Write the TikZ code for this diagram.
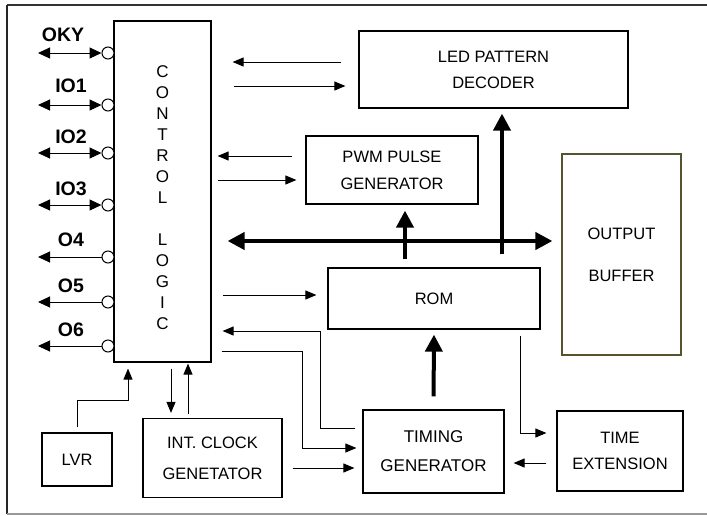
\documentclass[tikz,border=0pt]{standalone}
\usepackage{fontspec}
\setmainfont{Liberation Sans}
\usetikzlibrary{arrows.meta}

\definecolor{oliveedge}{RGB}{85,85,45}

\begin{document}
\begin{tikzpicture}[x=1pt,y=-1pt,line width=1pt,>={Triangle[length=11pt,width=9pt]},
        blk/.style={draw,line width=1.2pt,inner sep=0pt,align=center,font=\fontsize{16.5}{26}\selectfont},
        pin/.style={draw,circle,fill=white,inner sep=0pt,minimum size=12pt,line width=1pt},
        pinlab/.style={font=\fontsize{19.5}{19.5}\selectfont\bfseries},
        pinboth/.style={{Triangle[length=12pt,width=11pt]}-{Triangle[length=12pt,width=11pt]}},
        pinout/.style={-{Triangle[length=12pt,width=11pt]}},
        fat/.style={line width=4pt,-{Triangle[length=17pt,width=17pt]}},
        fatboth/.style={line width=4pt,{Triangle[length=17pt,width=17pt]}-{Triangle[length=17pt,width=17pt]}}]
        \pgfmathsetmacro{\px}{108}
        \pgfmathsetmacro{\ex}{38}
        \pgfmathsetmacro{\lx}{71}

        \useasboundingbox (0,0) rectangle (707,515);

        % outer frame
        \draw[line width=2pt,black!80] (7,5) -- (707,5);
        \draw[line width=1.2pt,black!85] (7,5) -- (7,514);
        \draw[line width=1.2pt,black!40] (7,514) -- (707,514);

        % blocks
        \node[blk,minimum width=97pt,minimum height=341pt] (CL) at (162.5,191.5) {};
        \node[font=\fontsize{17}{21}\selectfont,align=center,inner sep=0pt] (CL_txt) at (162.5,198)
                {C\\O\\N\\T\\R\\O\\L\\[21pt]L\\O\\G\\I\\C};
        \node[blk,minimum width=269pt,minimum height=77pt] (LED) at (493.5,69.5) {LED PATTERN\\DECODER};
        \node[blk,minimum width=172pt,minimum height=68pt,font=\fontsize{16.5}{27}\selectfont] (PWM) at (392,170) {PWM PULSE\\GENERATOR};
        \node[blk,draw=oliveedge,minimum width=119pt,minimum height=201pt,font=\fontsize{16.5}{42}\selectfont] (OB) at (621.5,254.5) {OUTPUT\\BUFFER};
        \node[blk,minimum width=212pt,minimum height=61pt] (ROM) at (434,298.5) {ROM};
        \node[blk,minimum width=141pt,minimum height=83pt,font=\fontsize{17}{29}\selectfont] (TG) at (433.5,451.5) {TIMING\\GENERATOR};
        \node[blk,minimum width=126pt,minimum height=80pt] (TE) at (620,451) {TIME\\EXTENSION};
        \node[blk,minimum width=70pt,minimum height=53pt] (LVR) at (77,459.5) {LVR};
        \node[blk,minimum width=139pt,minimum height=79pt,font=\fontsize{16.5}{31}\selectfont] (ICG) at (212.5,458) {INT. CLOCK\\GENETATOR};

        % pins
        \node[pin] (P_OKY) at (\px,53) {};
        \node[pin] (P_IO1) at (\px,105) {};
        \node[pin] (P_IO2) at (\px,153) {};
        \node[pin] (P_IO3) at (\px,205) {};
        \node[pin] (P_O4) at (\px,257) {};
        \node[pin] (P_O5) at (\px,302) {};
        \node[pin] (P_O6) at (\px,346) {};

        \coordinate (E_OKY) at (\ex,53);
        \coordinate (E_IO1) at (\ex,105);
        \coordinate (E_IO2) at (\ex,153);
        \coordinate (E_IO3) at (\ex,205);
        \coordinate (E_O4) at (\ex,257);
        \coordinate (E_O5) at (\ex,302);
        \coordinate (E_O6) at (\ex,346);

        \node[pinlab] (L_OKY) at (63,35) {OKY};
        \node[pinlab] (L_IO1) at (\lx,86) {IO1};
        \node[pinlab] (L_IO2) at (\lx,137) {IO2};
        \node[pinlab] (L_IO3) at (\lx,189) {IO3};
        \node[pinlab] (L_O4) at (\lx,240) {O4};
        \node[pinlab] (L_O5) at (\lx,286) {O5};
        \node[pinlab] (L_O6) at (\lx,330) {O6};

        \draw[pinboth] (E_OKY) -- (P_OKY);
        \draw[pinboth] (E_IO1) -- (P_IO1);
        \draw[pinboth] (E_IO2) -- (P_IO2);
        \draw[pinboth] (E_IO3) -- (P_IO3);
        \draw[pinout] (P_O4) -- (E_O4);
        \draw[pinout] (P_O5) -- (E_O5);
        \draw[pinout] (P_O6) -- (E_O6);

        % control logic to the blocks on its right
        \draw[->,shorten <=17pt,shorten >=21pt] (LED.west |- 0,62) -- (CL.east |- 0,62);
        \draw[->,shorten <=22pt,shorten >=13pt] (CL.east |- 0,86) -- (LED.west |- 0,86);
        \draw[->,shorten <=13pt,shorten >=6pt] (PWM.west |- 0,156) -- (CL.east |- 0,156);
        \draw[->,shorten <=6pt,shorten >=9pt] (CL.east |- 0,180) -- (PWM.west |- 0,180);
        \draw[fatboth,shorten <=16pt,shorten >=9pt] (CL.east |- 0,241) -- (OB.west |- 0,241);
        \draw[->,shorten <=11pt,shorten >=11pt] (CL.east |- 0,295) -- (ROM.west |- 0,295);

        \draw[fat,shorten <=8pt,shorten >=6pt] (ROM.north -| 405,0) -- (PWM.south -| 405,0);
        \draw[fat,shorten <=13pt,shorten >=5pt] (ROM.north -| 502,0) -- (LED.south -| 502,0);
        \draw[fat,shorten <=13pt,shorten >=5pt] (TG.north) -- (ROM.south);

        \draw[->,shorten <=6pt,shorten >=10pt] (ROM.south -| 520,0) |- (TE.west |- 0,433);
        \draw[->,shorten <=10pt,shorten >=9pt] (TE.west |- 0,463) -- (TG.east |- 0,463);
        \draw[->,shorten <=7pt,shorten >=11pt] (TG.west |- 0,428) -| (320,331) -- (CL.east |- 0,331);
        \draw[->,shorten <=10pt,shorten >=6pt] (CL.east |- 0,351) -| (302,448) -- (TG.west |- 0,448);
        \draw[->,shorten <=10pt,shorten >=8pt] (ICG.east |- 0,468) -- (TG.west |- 0,468);

        % below the control logic
        \draw[->,shorten <=5pt,shorten >=6pt] (LVR.north) |- (128,400) -- (CL.south -| 128,0);
        \draw[->,shorten <=6pt,shorten >=5pt] (CL.south -| 171,0) -- (ICG.north -| 171,0);
        \draw[->,shorten <=4pt,shorten >=1pt] (ICG.north -| 188,0) -- (CL.south -| 188,0);

    \end{tikzpicture}
\end{document}
